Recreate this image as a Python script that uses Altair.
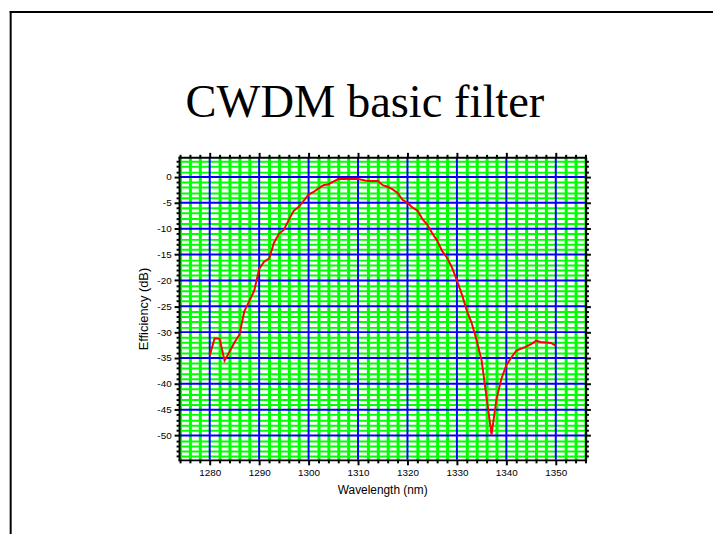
import altair as alt
import pandas as pd

# ---- data ----
wavelength = list(range(1280, 1351))
efficiency = [
    -34.5, -31.2, -31.3, -35.5, -33.8, -32.0, -30.5, -26.0, -24.0, -22.0,   # 1280-1289
    -17.8, -16.4, -15.8, -12.7, -11.0, -10.2, -8.3, -6.5, -5.8, -4.6,       # 1290-1299
    -3.4, -2.9, -2.2, -1.6, -1.4, -0.9, -0.4, -0.4, -0.4, -0.4,             # 1300-1309
    -0.4, -0.6, -0.8, -0.8, -0.8, -1.6, -1.9, -2.4, -3.1, -4.4,             # 1310-1319
    -5.0, -5.9, -6.5, -8.1, -9.2, -10.9, -12.3, -14.3, -15.6, -17.5,        # 1320-1329
    -20.0, -22.7, -25.8, -28.3, -31.6, -35.5, -42.6, -49.8, -43.0, -39.0,   # 1330-1339
    -36.4, -34.9, -33.6, -33.2, -32.8, -32.3, -31.7, -31.9, -32.0, -32.1,   # 1340-1349
    -32.6,                                                                  # 1350
]
title_text = ["CWDM basic filter"]
x_title = "Wavelength (nm)"
y_title = "Efficiency (dB)"

x_domain = [1273.8, 1356.0]
y_domain = [-54.7, 3.8]
x_major = list(range(1280, 1351, 10))
x_minor = [v for v in range(1274, 1357, 2) if v % 10 != 0]
y_major = list(range(-50, 1, 5))
y_minor = [v for v in range(-54, 4) if v % 5 != 0]

df = pd.DataFrame({"wavelength": wavelength, "efficiency": efficiency})
xmaj_df = pd.DataFrame({"wavelength": x_major})
ymaj_df = pd.DataFrame({"efficiency": y_major})

W, H = 411, 306
PAD = {"left": 173, "top": 148, "right": 129, "bottom": 75}

xs = alt.Scale(domain=x_domain, nice=False, zero=False)
ys = alt.Scale(domain=y_domain, nice=False, zero=False)

GREEN = "#00FF00"
BLUE = "#0000FF"
FONT = "Liberation Sans"

base = alt.Chart(df)


def axis_layer(xaxis, yaxis):
    return base.mark_line(opacity=0).encode(
        x=alt.X("wavelength:Q", scale=xs, axis=xaxis),
        y=alt.Y("efficiency:Q", scale=ys, axis=yaxis),
    )


def minor_axis(orient, values, grid, grid_width=2):
    kw = dict(
        orient=orient, values=values, grid=grid, ticks=True, tickSize=3,
        tickWidth=2, tickColor="black", labels=False, domain=False, title=None,
    )
    if grid:
        kw.update(gridColor=GREEN, gridWidth=grid_width, gridOpacity=1)
    return alt.Axis(**kw)


def major_axis(orient, values, title=None, title_pad=7, title_size=12):
    kw = dict(
        orient=orient, values=values, grid=False, ticks=True, tickSize=5,
        tickWidth=2, tickColor="black", domain=True, domainColor="black",
        domainWidth=2, domainCap="square", title=title, zindex=1,
    )
    if title is not None:
        kw.update(
            labels=True, labelExpr="datum.value + ''", labelFont=FONT,
            labelFontSize=10, labelColor="black", labelPadding=3,
            titleFont=FONT, titleFontSize=title_size, titleFontWeight="normal",
            titleColor="black", titlePadding=title_pad,
        )
    else:
        kw.update(labels=False)
    return alt.Axis(**kw)


# green minor grid (drawn by axes, behind all marks)
green_layer = axis_layer(
    minor_axis("bottom", x_minor, True, 3), minor_axis("left", y_minor, True, 2)
)
top_right_minor = axis_layer(
    minor_axis("top", x_minor, False), minor_axis("right", y_minor, False)
)

# blue major grid, drawn as rules through the shared scales
blue_x = alt.Chart(xmaj_df).mark_rule(color=BLUE, strokeWidth=2).encode(
    x=alt.X("wavelength:Q", scale=xs, axis=None)
)
blue_y = alt.Chart(ymaj_df).mark_rule(color=BLUE, strokeWidth=2).encode(
    y=alt.Y("efficiency:Q", scale=ys, axis=None)
)

# frame, major ticks, labels, titles (in front)
major_bl = axis_layer(
    major_axis("bottom", x_major, x_title, 7, 12),
    major_axis("left", y_major, y_title, 6, 13),
)
major_tr = axis_layer(major_axis("top", x_major), major_axis("right", y_major))

curve = base.mark_line(color="#FF0000", strokeWidth=2).encode(
    x=alt.X("wavelength:Q", scale=xs, axis=None),
    y=alt.Y("efficiency:Q", scale=ys, axis=None),
)

title_mark = alt.Chart(pd.DataFrame({"t": title_text})).mark_text(
    font="Liberation Serif", fontSize=47, color="black", align="center",
    baseline="alphabetic",
).encode(text="t:N", x=alt.value(188), y=alt.value(-41))

one = pd.DataFrame({"a": [0]})
border_left = alt.Chart(one).mark_rule(color="black", strokeWidth=2).encode(
    x=alt.value(-170.3), y=alt.value(-148), y2=alt.value(H + PAD["bottom"])
)
border_top = alt.Chart(one).mark_rule(color="black", strokeWidth=2).encode(
    y=alt.value(-147), x=alt.value(-171.3), x2=alt.value(W + PAD["right"])
)

chart = (
    alt.layer(
        green_layer, top_right_minor, blue_x, blue_y, major_bl, major_tr, curve,
        title_mark, border_left, border_top,
    )
    .resolve_axis(x="independent", y="independent")
    .properties(
        width=W, height=H, padding=PAD,
        autosize=alt.AutoSizeParams(type="none"),
        background="white",
    )
    .configure_view(stroke="transparent")
)

chart.save("out.html", embed_options={"renderer": "svg", "actions": False})
